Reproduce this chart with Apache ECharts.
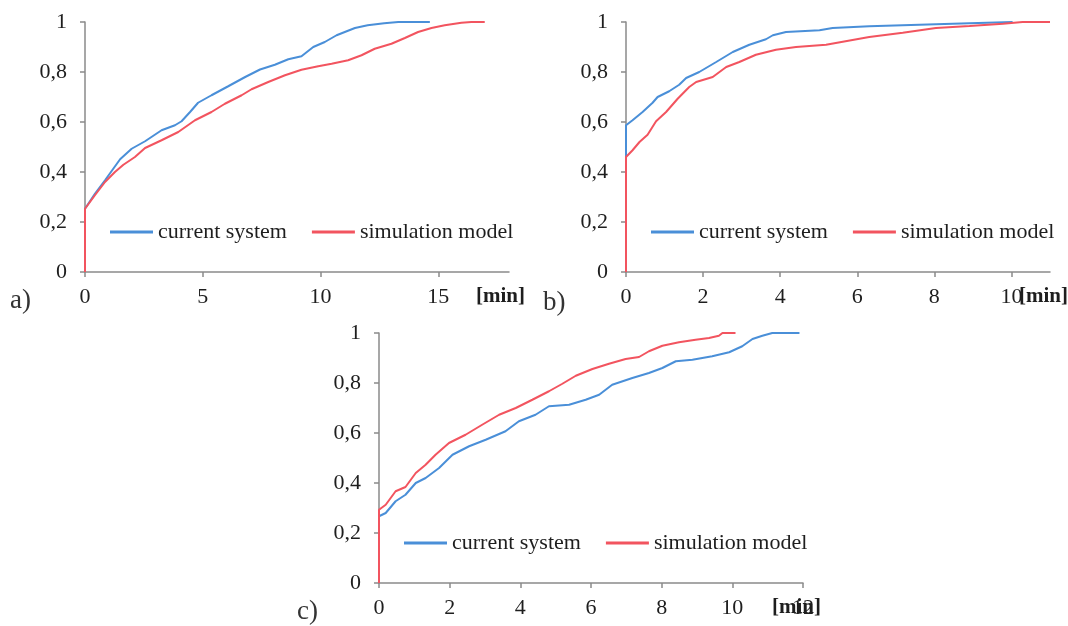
<!DOCTYPE html>
<html>
<head>
<meta charset="utf-8">
<script src="https://cdn.jsdelivr.net/npm/echarts@6/dist/echarts.min.js"></script>
<style>html,body{margin:0;padding:0;background:#fff}#c{width:1068px;height:626px}</style>
</head>
<body>
<div id="c"></div>
<script>
const seriesNames = ['current system', 'simulation model'];
const yTicks = [0, 0.2, 0.4, 0.6, 0.8, 1];
const aTicks = [0, 5, 10, 15];
const bTicks = [0, 2, 4, 6, 8, 10];
const cTicks = [0, 2, 4, 6, 8, 10, 12];
const panelLabels = ['a)', 'b)', 'c)'];
const unitLabel = '[min]';

const aCurrent = [[0,0],[0,0.253],[0.42,0.313],[0.85,0.367],[1.2,0.413],[1.49,0.451],[1.98,0.493],[2.55,0.523],[3.25,0.567],[3.82,0.587],[4.1,0.603],[4.46,0.64],[4.8,0.677],[5.37,0.707],[6.08,0.743],[6.8,0.78],[7.43,0.81],[8.06,0.829],[8.63,0.851],[9.19,0.863],[9.69,0.9],[10.18,0.92],[10.68,0.947],[11.03,0.96],[11.46,0.976],[12.0,0.987],[12.7,0.995],[13.3,1.0],[14.64,1.0]];
const aSim = [[0,0],[0,0.253],[0.42,0.307],[0.85,0.36],[1.27,0.4],[1.63,0.429],[2.12,0.46],[2.55,0.496],[3.25,0.527],[3.96,0.56],[4.67,0.607],[5.37,0.64],[5.94,0.673],[6.65,0.707],[7.07,0.731],[7.78,0.76],[8.49,0.787],[9.19,0.809],[9.9,0.823],[10.47,0.833],[11.17,0.847],[11.74,0.867],[12.3,0.893],[13.01,0.913],[13.58,0.936],[14.14,0.96],[14.71,0.976],[15.27,0.987],[15.98,0.997],[16.4,1.0],[16.97,1.0]];
const bCurrent = [[0,0],[0,0.587],[0.17,0.607],[0.43,0.64],[0.69,0.677],[0.82,0.7],[1.12,0.723],[1.38,0.749],[1.56,0.776],[1.9,0.8],[2.34,0.84],[2.77,0.88],[3.2,0.909],[3.63,0.931],[3.81,0.947],[4.15,0.96],[5.02,0.967],[5.36,0.976],[6.31,0.983],[7.61,0.989],[8.91,0.995],[10.03,1.0]];
const bSim = [[0,0],[0,0.46],[0.17,0.487],[0.35,0.52],[0.56,0.549],[0.78,0.603],[1.04,0.64],[1.34,0.693],[1.64,0.74],[1.82,0.76],[2.25,0.78],[2.6,0.82],[2.94,0.84],[3.37,0.869],[3.89,0.889],[4.41,0.9],[5.19,0.909],[6.31,0.94],[7.18,0.957],[8.04,0.976],[8.91,0.984],[9.78,0.993],[10.29,1.0],[11,1.0]];
const cCurrent = [[0,0],[0,0.267],[0.19,0.28],[0.47,0.327],[0.75,0.353],[1.04,0.4],[1.32,0.42],[1.7,0.46],[2.08,0.513],[2.55,0.547],[3.02,0.573],[3.58,0.607],[3.96,0.647],[4.43,0.673],[4.81,0.707],[5.38,0.713],[5.85,0.733],[6.23,0.753],[6.6,0.793],[7.17,0.82],[7.64,0.84],[8.02,0.86],[8.4,0.887],[8.87,0.893],[9.43,0.907],[9.91,0.923],[10.28,0.947],[10.57,0.976],[10.85,0.989],[11.13,1.0],[11.9,1.0]];
const cSim = [[0,0],[0,0.293],[0.19,0.313],[0.47,0.367],[0.75,0.384],[1.04,0.44],[1.32,0.473],[1.6,0.513],[1.98,0.56],[2.45,0.593],[2.92,0.633],[3.4,0.673],[3.87,0.7],[4.34,0.733],[4.81,0.767],[5.19,0.797],[5.57,0.829],[6.04,0.856],[6.51,0.877],[6.98,0.896],[7.36,0.904],[7.64,0.927],[8.02,0.949],[8.49,0.963],[8.96,0.973],[9.34,0.98],[9.62,0.989],[9.72,1.0],[10.09,1.0]];

const BLUE = '#4a8fd8';
const RED = '#f2545f';
const AXIS = '#8a8a8a';
const TXT = '#1e1e1e';
const FONT = 'Liberation Serif';

const grids = [
  {left: 85, top: 22, width: 424, height: 250},
  {left: 626, top: 22, width: 424, height: 250},
  {left: 379, top: 333, width: 424, height: 250}
];
const xMax = [18, 11, 12];
const xTickSets = [aTicks, bTicks, cTicks];
const dataSets = [[aCurrent, aSim], [bCurrent, bSim], [cCurrent, cSim]];

function fmt(v) { return String(Math.round(v * 10) / 10).replace('.', ','); }

const option = {
  animation: false,
  backgroundColor: '#fff',
  grid: grids.map(g => Object.assign({containLabel: false}, g)),
  xAxis: grids.map((g, i) => ({
    type: 'value', gridIndex: i, min: 0, max: xMax[i],
    splitLine: {show: false},
    axisLine: {show: true, onZero: false, lineStyle: {color: AXIS, width: 1.5}},
    axisTick: {show: true, length: 5, customValues: xTickSets[i], lineStyle: {color: AXIS, width: 1.5}},
    axisLabel: {customValues: xTickSets[i], margin: 14, color: TXT, fontFamily: FONT, fontSize: 22}
  })),
  yAxis: grids.map((g, i) => ({
    type: 'value', gridIndex: i, min: 0, max: 1, interval: 0.2,
    splitLine: {show: false},
    axisLine: {show: true, lineStyle: {color: AXIS, width: 1.5}},
    axisTick: {show: true, length: 5, lineStyle: {color: AXIS, width: 1.5}},
    axisLabel: {margin: 18, color: TXT, fontFamily: FONT, fontSize: 22, formatter: fmt}
  })),
  legend: grids.map((g, i) => ({
    left: g.left + 25, top: (i < 2 ? 221 : 532),
    orient: 'horizontal', padding: 0, itemGap: 25,
    itemWidth: 43, itemHeight: 3, icon: 'rect',
    textStyle: {color: TXT, fontFamily: FONT, fontSize: 22},
    data: seriesNames
  })),
  series: [],
  graphic: []
};

dataSets.forEach((pair, i) => {
  pair.forEach((d, k) => {
    option.series.push({
      type: 'line', name: seriesNames[k], xAxisIndex: i, yAxisIndex: i,
      data: d, showSymbol: false, symbol: 'none',
      color: k === 0 ? BLUE : RED,
      lineStyle: {width: 2, color: k === 0 ? BLUE : RED},
      z: 2 + k
    });
  });
});

const panelPos = [[10, 287], [543, 289], [297, 598]];
panelLabels.forEach((t, i) => {
  option.graphic.push({type: 'text', left: panelPos[i][0], top: panelPos[i][1],
    style: {text: t, font: '27px "' + FONT + '"', fill: '#333'}});
});
const unitPos = [[476, 286], [1019, 286], [772, 597]];
unitPos.forEach(p => {
  option.graphic.push({type: 'text', left: p[0], top: p[1], z: 10,
    style: {text: unitLabel, font: 'bold 21px "' + FONT + '"', fill: TXT}});
});

const chart = echarts.init(document.getElementById('c'), null, {renderer: 'canvas'});
chart.setOption(option);
</script>
</body>
</html>
